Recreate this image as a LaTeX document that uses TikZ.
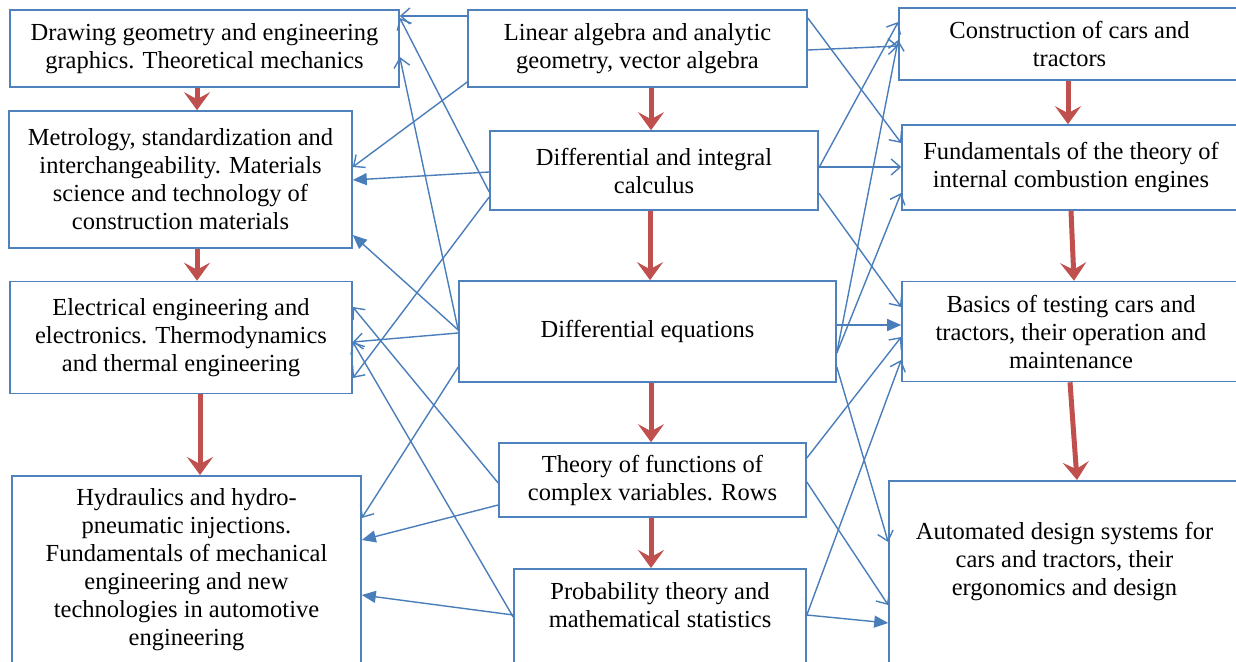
\documentclass[tikz,border=0pt]{standalone}
\usepackage{fontspec}
\setmainfont{Liberation Serif}
\usetikzlibrary{arrows.meta}
\definecolor{boxblue}{HTML}{4F81BD}
\definecolor{lineblue}{HTML}{4A7EBB}
\definecolor{arrred}{HTML}{C0504D}
\tikzset{
  box/.style={draw=boxblue, line width=1.6pt, inner sep=0pt, align=center,
    font=\fontsize{24.5}{28}\selectfont, text=black},
  botbox/.style={box, anchor=north, inner xsep=0pt},
  redarrow/.style={draw=arrred, line width=5pt, -{Stealth[length=18pt,width=26pt,inset=7pt]}},
  conn/.style={draw=lineblue, line width=1.4pt},
  openarr/.style={conn, -{Straight Barb[length=9pt,width=16pt]}},
  fillarr/.style={conn, -{Triangle[length=14pt,width=12pt]}}
}
\begin{document}
\begin{tikzpicture}[x=1pt,y=-1pt]
\useasboundingbox (0,0) rectangle (1236,661);
\clip (0,0) rectangle (1236,661);
\fill[white] (0,0) rectangle (1236,661);
% left column
\node[box, minimum width=389, minimum height=77] (l1) at (204.5,48.5)
  {Drawing geometry and engineering\\graphics. Theoretical mechanics};
\node[box, minimum width=343, minimum height=137] (l2) at (180.5,179.5)
  {Metrology, standardization and\\interchangeability. Materials\\science and technology of\\construction materials};
\node[box, minimum width=342, minimum height=112] (l3) at (181,337.5)
  {Electrical engineering and\\electronics. Thermodynamics\\and thermal engineering};
\node[botbox, minimum width=349, inner ysep=13pt] (l4) at (186.5,475)
  {Hydraulics and hydro-\\pneumatic injections.\\Fundamentals of mechanical\\engineering and new\\technologies in automotive\\engineering\\[20pt]\mbox{}};
% centre column
\node[box, minimum width=339, minimum height=77] (c1) at (637.5,48.5)
  {Linear algebra and analytic\\geometry, vector algebra};
\node[box, minimum width=328, minimum height=79] (c2) at (654,170.5)
  {Differential and integral\\calculus};
\node[box, minimum width=377, minimum height=101] (c3) at (647.5,331.5)
  {Differential equations};
\node[box, minimum width=307, minimum height=74] (c4) at (652.5,480)
  {Theory of functions of\\complex variables. Rows};
\node[botbox, minimum width=292, inner ysep=14pt] (c5) at (660,568)
  {Probability theory and\\mathematical statistics\\[30pt]\mbox{}};
% right column
\node[box, minimum width=341, minimum height=72] (r1) at (1069.5,44)
  {Construction of cars and\\tractors};
\node[box, minimum width=338, minimum height=85] (r2) at (1071,167.5)
  {Fundamentals of the theory of\\internal combustion engines};
\node[box, minimum width=338, minimum height=100] (r3) at (1071,331.5)
  {Basics of testing cars and\\tractors, their operation and\\maintenance};
\node[botbox, minimum width=351, inner ysep=41pt] (r4) at (1064.5,480)
  {Automated design systems for\\cars and tractors, their\\ergonomics and design\\[30pt]\mbox{}};
% red sequence arrows
\draw[redarrow] ([xshift=-7.5]l1.south) -- ([xshift=16.5]l2.north);
\draw[redarrow] ([xshift=16.5]l2.south) -- ([xshift=16]l3.north);
\draw[redarrow] ([xshift=19]l3.south) -- ([xshift=13.5]l4.north);
\draw[redarrow] ([xshift=13.5]c1.south) -- ([xshift=-3]c2.north);
\draw[redarrow] ([xshift=-4]c2.south) -- ([xshift=2.5]c3.north);
\draw[redarrow] ([xshift=3.5]c3.south) -- ([xshift=-1.5]c4.north);
\draw[redarrow] ([xshift=-1.5]c4.south) -- ([xshift=-9]c5.north);
\draw[redarrow] ([xshift=-1.5]r1.south) -- ([xshift=-3]r2.north);
\draw[redarrow] ([xshift=0]r2.south) -- ([xshift=3]r3.north);
\draw[redarrow] ([xshift=-1]r3.south) -- ([xshift=12.5]r4.north);
% left connectors
\draw[openarr] ([yshift=32.5]c1.west) -- ([yshift=32.5]l1.east);
\draw[openarr] ([yshift=-33.5]c1.west) -- ([yshift=12.5]l2.east);
\draw[fillarr] ([yshift=-1.5]c2.west) -- ([yshift=-0.5]l2.east);
\draw[fillarr] ([yshift=1.5]c3.west) -- ([yshift=-55.5]l2.east);
\draw[openarr] ([yshift=-21.5]c2.west) -- ([yshift=30.5]l1.east);
\draw[openarr] ([yshift=1.5]c3.west) -- ([yshift=-8.5]l1.east);
\draw[openarr] ([yshift=-26.5]c2.west) -- ([yshift=-40.5]l3.east);
\draw[openarr] ([yshift=-1.5]c3.west) -- ([yshift=-4.5]l3.east);
\draw[openarr] ([yshift=-3]c4.west) -- ([yshift=30.5]l3.east);
\draw[openarr] ([yshift=-49]c5.north west) -- ([yshift=-4.5]l3.east);
\draw[openarr] ([yshift=-35.5]c3.west) -- ([yshift=-43]l4.north east);
\draw[fillarr] ([yshift=-25]c4.west) -- ([yshift=-65]l4.north east);
\draw[fillarr] ([yshift=-47]c5.north west) -- ([yshift=-120]l4.north east);
% right connectors
\draw[openarr] ([yshift=30.5]c1.east) -- ([yshift=24.5]r2.west);
\draw[openarr] ([yshift=-1.5]c1.east) -- ([yshift=-2]r1.west);
\draw[openarr] ([yshift=2.5]c2.east) -- ([yshift=22]r1.west);
\draw[openarr] ([yshift=3.5]c2.east) -- ([yshift=0.5]r2.west);
\draw[openarr] ([yshift=-22.5]c2.east) -- ([yshift=24.5]r3.west);
\draw[openarr] ([yshift=-21.5]c3.east) -- ([yshift=4]r1.west);
\draw[openarr] ([yshift=-21.5]c3.east) -- ([yshift=-25.5]r2.west);
\draw[fillarr] ([yshift=6.5]c3.east) -- ([yshift=6.5]r3.west);
\draw[openarr] ([yshift=-35.5]c3.east) -- ([yshift=-62]r4.north west);
\draw[openarr] ([yshift=22]c4.east) -- ([yshift=-5.5]r3.west);
\draw[openarr] ([yshift=-2]c4.east) -- ([yshift=-125]r4.north west);
\draw[openarr] ([yshift=-47]c5.north east) -- ([yshift=-28.5]r3.west);
\draw[fillarr] ([yshift=-47]c5.north east) -- ([yshift=-143]r4.north west);
\end{tikzpicture}
\end{document}
